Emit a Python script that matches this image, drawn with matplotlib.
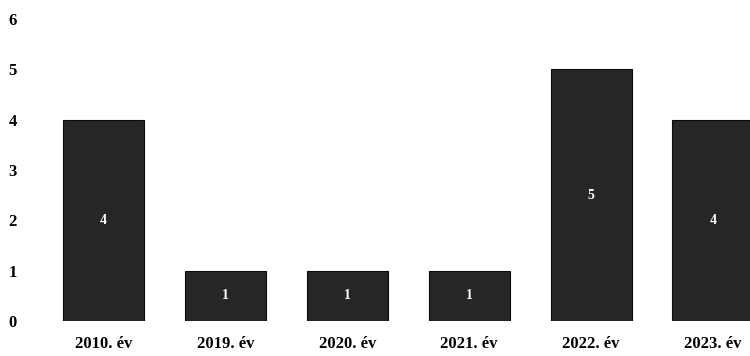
import matplotlib

matplotlib.use("Agg")
import matplotlib.pyplot as plt

years = ["2010. év", "2019. év", "2020. év", "2021. év", "2022. év", "2023. év"]
counts = [4, 1, 1, 1, 5, 4]
y_ticks = [0, 1, 2, 3, 4, 5, 6]

plt.rcParams["font.family"] = ["Liberation Serif", "DejaVu Serif"]

fig = plt.figure(figsize=(7.5, 3.56), dpi=100)
# axes in pixel terms: left 25, right edge clipped at 750, y=0 at 321, y=6 at 19
ax = fig.add_axes([25 / 750, 1 - 321 / 356, 725 / 750, (321 - 19) / 356])

positions = list(range(len(years)))
ax.bar(positions, counts, width=0.665, color="#262626",
       edgecolor="#0a0a0a", linewidth=0.8)

for x, v in zip(positions, counts):
    ax.text(x, v / 2, str(v), ha="center", va="center", color="white",
            fontsize=10, fontweight="bold")

step = 121.9
ax.set_xlim((25 - 103.5) / step, (750 - 103.5) / step)
ax.set_ylim(0, 6)
ax.set_xticks(positions, years)
ax.set_yticks(y_ticks, [str(t) for t in y_ticks])
ax.tick_params(axis="both", length=0, labelsize=12)
ax.tick_params(axis="x", pad=11)
ax.tick_params(axis="y", pad=6)
for label in ax.get_xticklabels() + ax.get_yticklabels():
    label.set_fontweight("bold")
for spine in ax.spines.values():
    spine.set_visible(False)

fig.savefig("out.png", dpi=100)
